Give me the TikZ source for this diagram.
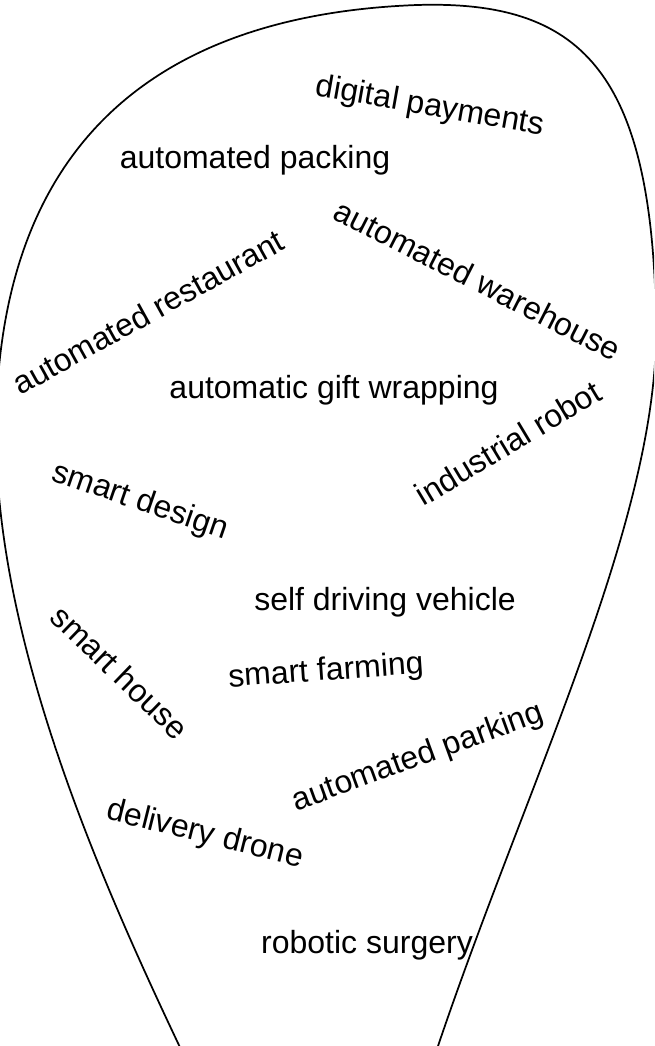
\documentclass[tikz,border=0pt]{standalone}
\usepackage{fontspec}
\setmainfont{Liberation Sans}
\tikzset{word/.style={draw=none,inner sep=0pt,font=\fontsize{24}{28}\selectfont}}
\begin{document}
\begin{tikzpicture}[x=.75pt,y=-.75pt]
\useasboundingbox (0,0) rectangle (654,1046);
\begin{scope}
\clip (0,0) rectangle (654,1046);
\draw[line width=1.3pt] (186,1060) .. controls (110,900) and (-5,650) .. (-4,430)
  .. controls (-3,150) and (150,15) .. (417,5)
  .. controls (580,0) and (652,70) .. (656,320)
  .. controls (661,520) and (522,790) .. (430,1070);
\end{scope}

\node[name=pay,word,rotate=-10] at (430,107) {digital payments};
\node[name=pack,word] at (255,160) {automated packing};
\node[name=rest,word,rotate=29] at (148,312) {automated restaurant};
\node[name=ware,word,rotate=-27] at (478,280) {automated warehouse};
\node[name=gift,word] at (334,390) {automatic gift wrapping};
\node[name=robot,word,rotate=31] at (508,443) {industrial robot};
\node[name=design,word,rotate=-19] at (140,502) {smart design};
\node[name=car,word] at (385,602) {self driving vehicle};
\node[name=house,word,rotate=-44] at (120,672) {smart house};
\node[name=farm,word,rotate=4] at (326,672) {smart farming};
\node[name=park,word,rotate=20] at (418,758) {automated parking};
\node[name=drone,word,rotate=-14] at (205,835) {delivery drone};
\node[name=surg,word] at (367,945) {robotic surgery};
\end{tikzpicture}
\end{document}
